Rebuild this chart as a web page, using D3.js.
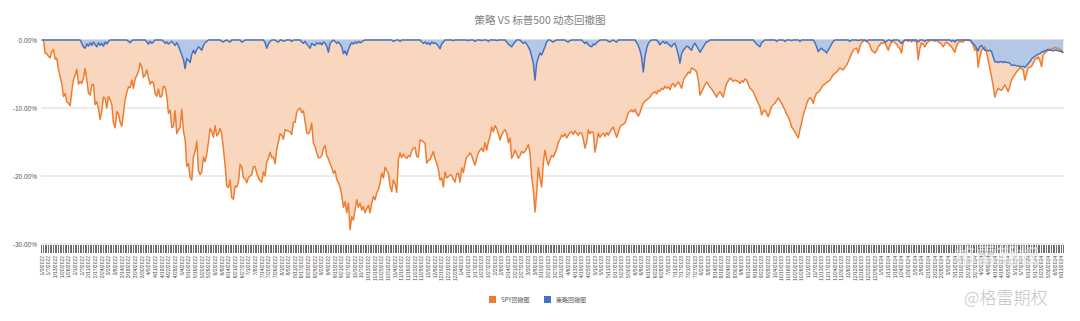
<!DOCTYPE html>
<html>
<head>
<meta charset="utf-8">
<script src="https://cdn.jsdelivr.net/npm/d3@7"></script>
<style>
  body { margin: 0; background: #fff; }
  svg { display: block; font-family: "Liberation Sans", "Noto Sans CJK SC", sans-serif; }
</style>
</head>
<body>
<div id="chart"></div>
<script>
// drawdown in percent, one value per trading day
const spy2022 = [
  0, 0, -2.0, -2.0, -2.4, -2.6, -1.7, -1.4, -2.8, -2.7, -4.4, -5.4, -6.5, -8.3, -7.9, -9.1, -9.3, -9.7, -7.5, -5.8,
  -5.2, -4.3, -6.5, -6.1, -6.4, -5.6, -4.2, -5.9, -7.8, -8.1, -6.6, -6.5, -9.5, -9.1, -10.1, -11.7, -10.3, -8.4, -8.6,
  -10.0, -8.3, -8.8, -9.5, -12.2, -12.9, -10.5, -10.9, -12.1, -12.7, -10.8, -8.8, -7.7, -6.9, -7.0, -5.9, -7.1, -5.7, -5.2, -4.6, -3.4, -4.0, -5.5,
  -5.2, -4.4, -5.6, -6.5, -6.1, -6.3, -7.9, -8.3, -7.2, -8.4, -8.3, -6.8, -6.9, -8.3, -10.8, -10.3, -12.9, -12.7, -10.4, -13.8,
  -13.2, -12.8, -10.2, -13.4, -14.6, -18.6, -18.2, -20.2, -20.6, -17.2, -16.4, -14.9, -19.2, -19.8, -19.4, -17.2, -17.9, -16.8, -15.0, -13.0, -13.5,
  -14.3, -12.6, -14.1, -13.8, -13.0, -13.9, -16.0, -18.4, -21.5, -21.7, -20.6, -23.2, -23.4, -21.5, -21.6, -20.9, -18.3, -18.7, -20.3, -20.4, -21.0,
  -20.2, -20.0, -19.8, -18.6, -18.6, -19.6, -20.3, -20.7, -20.9, -19.4, -20.0, -17.9, -17.4, -16.5, -17.3, -17.2, -18.2, -16.0, -15.0, -13.8,
  -14.0, -14.6, -13.2, -13.3, -13.4, -13.5, -13.9, -12.1, -12.1, -10.6, -10.2, -10.0, -10.7, -10.4, -12.0, -13.7, -13.8, -13.4, -12.2, -15.2, -15.7, -16.6, -17.3,
  -17.3, -17.0, -16.0, -15.5, -17.0, -17.5, -18.2, -18.8, -19.6, -19.2, -20.5, -21.0, -21.6, -22.8, -24.6, -23.8, -25.4, -24.0, -27.9, -26.0, -26.5,
  -25.0, -23.5, -24.6, -24.0, -25.0, -24.5, -25.4, -24.8, -24.3, -25.4, -24.0, -23.0, -23.5, -22.5, -22.0, -21.0, -19.6, -20.3, -18.7, -19.2, -19.6,
  -21.5, -22.3, -20.6, -21.2, -22.4, -17.6, -16.6, -17.3, -16.8, -17.2, -17.4, -17.0, -17.2, -16.3, -15.9, -15.8, -17.1, -17.2, -14.7, -14.8, -15.0,
  -15.2, -18.1, -17.7, -17.6, -17.0, -16.4, -17.5, -18.1, -19.0, -20.6, -20.3, -21.6, -19.4, -20.3, -20.1, -19.8, -19.9, -20.5, -20.9, -19.7, -19.6
];
const spy2023 = [
  -20.9, -18.8, -19.5, -18.2, -17.2, -17.0, -16.6, -17.0, -17.8, -18.4, -17.4, -16.6, -16.2, -15.9, -16.4, -15.1, -16.2, -15.0, -14.2, -12.8,
  -13.5, -12.6, -13.0, -13.8, -14.7, -14.0, -13.5, -13.2, -13.7, -15.1, -14.4, -17.4, -16.9, -16.2, -16.8, -17.4, -17.0, -16.4, -16.6,
  -16.4, -15.9, -15.4, -16.6, -20.1, -22.0, -25.3, -22.5, -18.8, -20.4, -21.6, -18.0, -16.2, -17.5, -18.4, -17.6, -17.0, -17.2, -16.6, -16.0, -15.1, -14.6, -14.0,
  -14.2, -13.8, -14.4, -14.0, -13.6, -13.5, -13.9, -13.4, -13.7, -14.0, -13.6, -13.7, -14.6, -15.9, -15.0, -13.2, -13.8, -13.5, -13.6,
  -16.5, -15.2, -13.7, -14.3, -13.9, -13.7, -14.2, -13.6, -14.0, -13.5, -13.1, -12.8, -13.6, -14.3, -13.6, -12.8, -12.5, -12.4, -12.2, -11.5, -10.7, -10.5,
  -10.3, -10.6, -10.2, -10.8, -11.2, -10.7, -9.9, -9.3, -9.0, -8.8, -8.6, -8.4, -8.0, -7.8, -7.6, -7.9, -7.4, -7.5, -7.1, -7.3, -6.8,
  -7.1, -6.9, -7.3, -6.6, -6.4, -6.9, -6.5, -6.2, -6.6, -7.1, -6.0, -5.4, -5.2, -4.7, -4.9, -4.1, -4.3, -4.4, -4.7, -5.9,
  -8.1, -7.6, -7.1, -6.6, -6.2, -6.5, -6.9, -7.2, -7.6, -8.0, -8.4, -7.9, -7.6, -8.0, -8.4, -7.3, -6.4, -6.0, -5.6, -5.8, -6.1, -5.9, -6.0,
  -6.1, -6.4, -6.0, -6.2, -5.7, -5.9, -6.5, -7.1, -7.3, -7.6, -8.2, -8.8, -9.3, -9.8, -11.0, -10.5, -10.3, -10.8, -11.3, -10.6,
  -9.8, -9.5, -9.3, -8.9, -8.5, -8.9, -9.3, -9.8, -10.3, -10.9, -11.3, -11.9, -12.8, -13.1, -13.5, -14.0, -14.4, -13.2, -12.2, -11.0, -10.3, -9.5,
  -8.8, -8.5, -8.7, -9.3, -8.4, -7.8, -7.7, -7.4, -7.0, -6.6, -6.5, -6.2, -6.1, -5.9, -5.5, -5.1, -4.9, -4.7, -4.4, -4.1, -4.3,
  -4.4, -4.0, -3.7, -3.2, -2.6, -2.0, -1.5, -1.3, -1.2, -1.9, -1.0, -0.4, -0.2, 0, -0.2, -0.4, -0.8, -1.5, -1.7, -1.9
];
const spy2024 = [
  -1.6, -1.0, -0.7, -0.4, -0.5, -0.3, -0.9, -1.5, -0.8, -0.3, -0.2, -0.4, -0.6, -1.0, -1.3, -1.9, -0.3, -0.1, 0, -0.2, 0,
  -0.3, 0, -0.2, -0.3, -2.9, -1.2, -0.4, -0.6, -1.0, -0.5, -0.3, 0, -0.1, 0, -0.2, 0, -0.3, -0.4, -0.6, -1.0,
  -0.6, -0.3, -0.5, -0.8, -1.0, -1.4, -1.8, -0.9, -0.4, -0.2, -0.3, -0.3, 0, 0, -0.1, 0, -0.4, -0.8, -1.5, -1.2,
  -4.0, -2.5, -1.5, -1.2, -1.0, -1.8, -2.9, -4.2, -5.4, -6.8, -8.4, -7.6, -7.1, -7.3, -7.4, -7.0, -6.6, -7.1, -7.6, -6.8, -5.9, -5.4,
  -5.1, -4.7, -4.4, -4.1, -4.2, -4.4, -5.9, -5.0, -4.1, -4.0, -3.9, -3.4, -2.9, -2.7, -2.5, -3.0, -3.9, -2.2, -1.9, -1.7, -1.5, -1.4,
  -1.3, -1.2, -1.1, -1.2, -1.2, -1.4, -1.5, -1.9
];

const strat2022 = [
  0, 0, 0, 0, 0, 0, 0, 0, 0, 0, 0, 0, 0, 0, 0, 0, 0, 0, 0, 0,
  0, 0, 0, 0, -0.5, -1.0, -1.2, -0.6, -0.9, -0.4, -0.8, -0.3, -0.7, -1.0, -0.4, -0.8, -0.5, -0.9, -0.3,
  -0.6, -0.2, 0, 0, 0, 0, 0, 0, 0, 0, 0, 0, 0, -0.2, -0.4, -0.1, 0, 0, 0, 0, 0, 0, 0,
  0, -0.3, -0.6, -0.2, -0.5, -0.3, 0, 0, 0, 0, 0, -0.2, -0.5, -0.3, -0.6, -0.4, -0.2, -0.5, -0.8, -0.4,
  -0.9, -1.5, -2.2, -2.9, -4.2, -2.7, -3.0, -3.3, -2.1, -1.5, -2.0, -1.4, -1.0, -1.2, -1.5, -0.8, -0.4, -0.2, 0, 0, 0,
  0, 0, 0, 0, 0, -0.2, -0.3, -0.1, 0, -0.2, -0.3, 0, 0, 0, 0, 0, 0, -0.3, -0.2, 0, 0,
  0, 0, 0, 0, 0, 0, 0, 0, 0, 0, -0.4, -1.2, -0.6, -0.2, 0, 0, 0, -0.2, -0.3, 0,
  0, -0.2, -0.1, 0, 0, 0, -0.2, 0, 0, 0, 0, 0, -0.3, -0.5, -0.2, -0.6, -0.9, -1.2, -0.5, -0.7, -0.8, -0.4, -0.6,
  -0.4, -0.7, -0.3, -0.5, -0.9, -1.8, -0.5, -0.2, 0, -0.2, -0.5, -0.3, -0.6, -1.0, -2.0, -1.6, -2.2, -1.4, -0.8, -0.4, -0.6,
  -0.3, -0.5, -0.2, -0.4, -0.3, -0.1, 0, 0, 0, 0, 0, 0, 0, 0, 0, 0, 0, 0, 0, 0, 0,
  0, 0, -0.2, -0.1, 0, 0, -0.2, 0, 0, 0, 0, 0, 0, 0, 0, 0, 0, 0, 0, -0.3, -0.5,
  -0.3, -0.6, -0.4, -0.7, -0.3, -0.5, -0.4, -0.6, -0.9, -1.3, -0.6, -0.3, 0, 0, 0, 0, 0, -0.1, 0, 0, 0
];
const strat2023 = [
  0, 0, 0, 0, 0, -0.1, 0, 0, 0, -0.2, 0, 0, 0, -0.1, 0, 0, 0, -0.2, 0, 0,
  0, 0, -0.1, 0, 0, 0, 0, 0, -0.3, -0.6, -0.8, -1.0, -0.6, -0.3, 0, 0, 0, -0.3, -0.5,
  -0.3, -0.6, -1.0, -1.5, -2.4, -3.4, -5.9, -3.4, -2.6, -1.9, -2.2, -1.6, -1.0, -0.3, 0, 0, -0.2, -0.3, -0.1, 0, 0, 0, 0,
  0, 0, -0.2, -0.3, -0.1, 0, 0, 0, 0, 0, 0, 0, -0.3, -0.5, -0.3, -0.7, -0.9, -1.0, -0.6,
  -0.7, -0.4, -0.2, 0, 0, 0, 0, 0, -0.2, -0.3, -0.1, 0, -0.2, -0.3, 0, 0, 0, 0, 0, 0, 0, 0,
  0, 0, 0, -0.4, -0.8, -1.5, -2.6, -4.7, -2.5, -1.2, -0.5, -0.2, 0, 0, 0, 0, -0.3, -0.7, -0.4, -0.2, -0.5,
  -0.3, -0.6, -0.8, -1.0, -0.6, -0.5, -1.2, -2.2, -3.4, -2.0, -1.5, -1.2, -0.9, -1.0, -1.3, -1.5, -0.8, -0.5, -0.9, -1.3,
  -1.8, -1.4, -1.0, -0.6, -0.3, -0.2, 0, 0, 0, 0, 0, 0, 0, 0, 0, 0, 0, 0, 0, 0, 0, 0, 0,
  0, 0, 0, 0, 0, 0, 0, 0, 0, 0, -0.3, -0.6, -0.8, -1.0, -0.4, -0.2, 0, 0, 0, 0,
  0, 0, 0, -0.2, 0, 0, 0, 0, -0.2, 0, 0, 0, -0.1, 0, 0, 0, 0, -0.2, 0, 0, 0, 0,
  0, 0, 0, 0, -0.4, -1.0, -1.7, -1.4, -1.2, -1.5, -1.6, -1.9, -1.5, -1.1, -0.6, -0.2, 0, 0, 0, 0, 0,
  0, 0, 0, 0, -0.2, 0, 0, 0, 0, -0.1, 0, 0, 0, 0, -0.2, 0, 0, 0, 0, 0
];
const strat2024 = [
  0, 0, 0, 0, 0, -0.3, -0.2, 0, 0, -0.2, 0, 0, 0, 0, -0.3, -0.5, -0.2, 0, 0, 0, 0,
  0, 0, 0, 0, -0.3, 0, 0, 0, -0.2, 0, 0, 0, 0, 0, 0, 0, 0, 0, 0, 0,
  0, 0, 0, 0, -0.2, 0, -0.3, 0, 0, 0, 0, 0, 0, 0, 0, 0, -0.2, -0.5, -0.8, -1.2,
  -1.6, -1.0, -0.8, -1.2, -1.5, -1.5, -1.6, -1.5, -1.7, -2.5, -3.2, -3.2, -3.3, -3.2, -3.2, -3.3, -3.2, -3.3, -3.3, -3.4, -3.7, -3.7,
  -3.7, -3.8, -3.8, -3.9, -3.9, -3.9, -4.0, -3.8, -3.5, -3.2, -2.8, -2.6, -2.4, -2.2, -2.1, -2.0, -1.8, -1.7, -1.6, -1.5, -1.4, -1.5,
  -1.5, -1.6, -1.5, -1.5, -1.6, -1.6, -1.7, -1.9
];

// market holidays, skipped when listing the trading days
const holidays = [
  "2022-01-17", "2022-02-21", "2022-04-15", "2022-05-30", "2022-06-20", "2022-07-04", "2022-09-05", "2022-11-24", "2022-12-26",
  "2023-01-02", "2023-01-16", "2023-02-20", "2023-04-07", "2023-05-29", "2023-06-19", "2023-07-04", "2023-09-04", "2023-11-23", "2023-12-25",
  "2024-01-01", "2024-01-15", "2024-02-19", "2024-03-29", "2024-05-27", "2024-06-19"
];
const firstDay = "2022-01-03";
const yTicks = [0, -10, -20, -30];
const seriesNames = ["SPY回撤图", "策略回撤图"];
const titleText = "策略 VS 标普500 动态回撤图";

const spyDD = [].concat(spy2022, spy2023, spy2024);
const stratDD = [].concat(strat2022, strat2023, strat2024);

function tradingDays(start, count) {
    const out = [];
    const d = new Date(start + "T00:00:00Z");
    while (out.length < count) {
        const iso = d.toISOString().slice(0, 10);
        const wd = d.getUTCDay();
        if (wd !== 0 && wd !== 6 && holidays.indexOf(iso) < 0) {
            out.push((d.getUTCMonth() + 1) + "/" + d.getUTCDate() + "/" + d.getUTCFullYear());
        }
        d.setUTCDate(d.getUTCDate() + 1);
    }
    return out;
}
const dates = tradingDays(firstDay, spyDD.length);

const width = 1080, height = 321;
const margin = {left: 41, right: 16, top: 40, bottom: 77};

const svg = d3.select("#chart").append("svg")
    .attr("width", width)
    .attr("height", height);

const x = d3.scaleBand()
    .domain(dates)
    .range([margin.left, width - margin.right])
    .padding(0);
const bw = x.bandwidth();
const y = d3.scaleLinear()
    .domain([-30, 0])
    .range([height - margin.bottom, margin.top]);

// title
svg.append("text")
    .attr("x", 540)
    .attr("y", 24)
    .attr("text-anchor", "middle")
    .style("font-family", "'Noto Sans CJK SC', sans-serif")
    .style("font-size", "10.5px")
    .style("fill", "#7f7f7f")
    .text(titleText);

// gridlines
svg.append("g")
    .selectAll("line")
    .data(yTicks)
    .enter().append("line")
    .attr("x1", margin.left)
    .attr("x2", width - margin.right)
    .attr("y1", d => y(d))
    .attr("y2", d => y(d))
    .style("stroke", d => d === 0 ? "#bfbfbf" : "#d9d9d9")
    .style("stroke-width", 1);

// y labels
const yAxis = svg.append("g")
    .attr("transform", `translate(${margin.left},0)`)
    .call(d3.axisLeft(y).tickValues(yTicks).tickSize(0).tickPadding(4)
        .tickFormat(d => d.toFixed(2) + "%"));
yAxis.select(".domain").remove();
yAxis.selectAll("text")
    .style("font-size", "6.5px")
    .style("fill", "#595959");

const px = (d, i) => x(dates[i]) + bw / 2;

const areaGen = d3.area()
    .x(px)
    .y0(y(0))
    .y1(d => y(d));
const lineGen = d3.line()
    .x(px)
    .y(d => y(d));

svg.append("path")
    .datum(spyDD)
    .attr("d", areaGen)
    .style("fill", "#f9d6be");

svg.append("path")
    .datum(stratDD)
    .attr("d", areaGen)
    .style("fill", "#b4c7e7");

svg.append("path")
    .datum(spyDD)
    .attr("d", lineGen)
    .style("fill", "none")
    .style("stroke", "#ed7d31")
    .style("stroke-width", 1.5)
    .style("stroke-linejoin", "round");

svg.append("path")
    .datum(stratDD)
    .attr("d", lineGen)
    .style("fill", "none")
    .style("stroke", "#4472c4")
    .style("stroke-width", 1.5)
    .style("stroke-linejoin", "round");

// x axis: a tick per day, a label every 4th day
const xAxis = svg.append("g")
    .attr("transform", `translate(0,${y(-30) + 1})`)
    .call(d3.axisBottom(x).tickSize(8)
        .tickFormat((d, i) => i % 4 === 0 ? d : ""));
xAxis.select(".domain").remove();
xAxis.selectAll(".tick line")
    .style("stroke", "#6f6f6f")
    .style("stroke-width", 1)
    .style("shape-rendering", "crispEdges");
xAxis.selectAll("text")
    .attr("y", 0)
    .attr("x", -11)
    .attr("dy", "0.35em")
    .attr("transform", "rotate(-90)")
    .style("text-anchor", "end")
    .style("font-size", "5px")
    .style("fill", "#4d4d4d");

// legend
const legendColors = ["#ed7d31", "#4472c4"];
const legend = svg.append("g");
const legendX = [489, 544];
seriesNames.forEach((name, i) => {
    legend.append("rect")
        .attr("x", legendX[i])
        .attr("y", 296)
        .attr("width", 7)
        .attr("height", 7)
        .style("fill", legendColors[i]);
    legend.append("text")
        .attr("x", legendX[i] + 12)
        .attr("y", 302)
        .style("font-family", "'Noto Sans CJK SC', sans-serif")
        .style("font-size", "6px")
        .style("fill", "#595959")
        .text(name);
});

// watermarks
svg.append("text")
    .attr("x", 955)
    .attr("y", 263)
    .style("font-family", "'Noto Sans CJK SC', sans-serif")
    .style("font-size", "21px")
    .style("font-weight", "bold")
    .style("fill", "#ffffff")
    .style("fill-opacity", 0.55)
    .style("stroke", "#9a9a9a")
    .style("stroke-opacity", 0.45)
    .style("stroke-width", 0.6)
    .text("格雷期权");

svg.append("text")
    .attr("x", 964)
    .attr("y", 304)
    .style("font-family", "'Noto Sans CJK SC', sans-serif")
    .style("font-size", "17px")
    .style("font-weight", 300)
    .style("fill", "#c4c4c4")
    .text("@格雷期权");
</script>
</body>
</html>
